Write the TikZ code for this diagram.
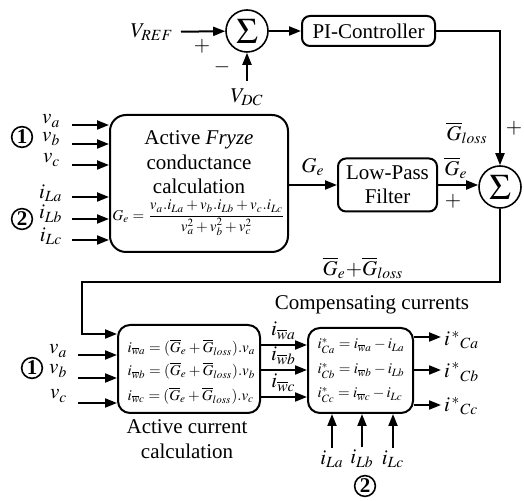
\documentclass[tikz,border=0pt]{standalone}
\usepackage{amsmath}
\usepackage{mathptmx}
\usepackage[no-math]{fontspec}
\setmainfont{Liberation Serif}
\usetikzlibrary{arrows.meta}

\begin{document}
\begin{tikzpicture}[x=0.5pt, y=-0.5pt, font=\fontsize{10.5}{12.2}\selectfont,
  >={Triangle[length=6pt,width=4.5pt]}, line width=1pt,
  block/.style={draw, line width=1pt, rounded corners=4pt, inner sep=2pt, align=center},
  sumnode/.style={draw, line width=0.8pt, circle, minimum size=21pt, inner sep=0pt,
    font=\fontsize{18}{18}\selectfont},
  numc/.style={draw, line width=0.8pt, circle, inner sep=0.6pt, minimum size=10pt,
    font=\fontsize{10.5}{10.5}\selectfont\bfseries},
  eqfont/.style={font=\fontsize{7.5}{11}\selectfont},
  flow/.style={->, line width=1pt}]

\useasboundingbox (0,0) rectangle (524,501);

% ---------- DC-link voltage loop ----------
\node[sumnode] (sumdc) at (247,31) {$\Sigma$};
\node (vref) at (152,32) {$V_{REF}$};
\node (vdc) at (247,97) {$V_{DC}$};
\node[block, minimum width=66.5pt, minimum height=15pt] (pi) at (368.5,31) {PI-Controller};
\node (plusref) at (202,46) {$+$};
\node (minusdc) at (222,67) {$-$};

\draw[flow] (vref) -- (sumdc);
\draw[flow] (vdc) -- (sumdc);
\draw[flow] (sumdc) -- (pi);

% ---------- Fryze conductance ----------
\node[block, rounded corners=8pt, minimum width=89pt, minimum height=68.5pt,
  inner sep=1pt] (fryze) at (199,183.5)
  {Active \textit{Fryze}\\conductance\\calculation\\[1pt]
   {\fontsize{7.5}{9}\selectfont$G_e=\dfrac{v_a.i_{La}+v_b.i_{Lb}+v_c.i_{Lc}}{v_a^2+v_b^2+v_c^2}$}};

\coordinate (vain) at (72,125);
\coordinate (vbin) at (72,144);
\coordinate (vcin) at (72,165);
\coordinate (ilain) at (72,197);
\coordinate (ilbin) at (72,219);
\coordinate (ilcin) at (72,240);
\node[anchor=east] (va) at (68,121) {$v_a$};
\node[anchor=east] (vb) at (68,139) {$v_b$};
\node[anchor=east] (vc) at (68,160) {$v_c$};
\node[anchor=east] (ila) at (70,193) {$i_{La}$};
\node[anchor=east] (ilb) at (70,214) {$i_{Lb}$};
\node[anchor=east] (ilc) at (70,236) {$i_{Lc}$};
\draw[flow] (vain) -- (vain -| fryze.west);
\draw[flow] (vbin) -- (vbin -| fryze.west);
\draw[flow] (vcin) -- (vcin -| fryze.west);
\draw[flow] (ilain) -- (ilain -| fryze.west);
\draw[flow] (ilbin) -- (ilbin -| fryze.west);
\draw[flow] (ilcin) -- (ilcin -| fryze.west);
\node[numc] (one) at (22,137) {1};
\node[numc] (two) at (22,219) {2};

% ---------- filter and loss sum ----------
\node[block, minimum width=49.5pt, minimum height=26.5pt] (lpf) at (387.5,185)
  {Low-Pass\\Filter};
\node[sumnode] (sumg) at (500,187) {$\Sigma$};

\draw[flow] (fryze.east |- lpf.west) -- (lpf.west)
  node[midway, above=1pt] (ge) {$G_e$};
\draw[flow] (lpf.east) -- (sumg.west |- lpf.east);
\draw[flow] (pi.east) -| (sumg.north);
\node (gbar) at (456,168) {$\overline{G}_e$};
\node (plusge) at (453,201) {$+$};
\node (gloss) at (467,133) {$\overline{G}_{loss}$};
\node (plusloss) at (514,128) {$+$};

% ---------- active current ----------
\node[block, rounded corners=6pt, minimum width=71pt, minimum height=44pt] (acc) at (189,369) {};
\node[eqfont, anchor=west] (eqwa) at (120,348)
  {$i_{\overline{w}a}=(\overline{G}_e+\overline{G}_{loss}).v_a$};
\node[eqfont, anchor=west] (eqwb) at (120,371)
  {$i_{\overline{w}b}=(\overline{G}_e+\overline{G}_{loss}).v_b$};
\node[eqfont, anchor=west] (eqwc) at (120,396)
  {$i_{\overline{w}c}=(\overline{G}_e+\overline{G}_{loss}).v_c$};
\node[align=center] (acclab) at (187,439) {Active current\\calculation};

\coordinate (fbturn) at (82,282);
\draw[flow] (sumg.south) |- (fbturn) |- (acc.west |- 0,334);
\node (gsum) at (363,268) {$\overline{G}_e{+}\overline{G}_{loss}$};

\coordinate (va2in) at (78,355);
\coordinate (vb2in) at (78,378);
\coordinate (vc2in) at (78,403);
\node[anchor=east] (va2) at (75,351) {$v_a$};
\node[anchor=east] (vb2) at (75,371) {$v_b$};
\node[anchor=east] (vc2) at (75,396) {$v_c$};
\draw[flow] (va2in) -- (va2in -| acc.west);
\draw[flow] (vb2in) -- (vb2in -| acc.west);
\draw[flow] (vc2in) -- (vc2in -| acc.west);
\node[numc] (one2) at (32,368) {1};

% ---------- compensating currents ----------
\node[block, rounded corners=6pt, minimum width=52.5pt, minimum height=42.5pt] (comp) at (360.5,370.5) {};
\node[eqfont, anchor=west] (eqca) at (310,346) {$i^*_{Ca}=i_{\overline{w}a}-i_{La}$};
\node[eqfont, anchor=west] (eqcb) at (310,371) {$i^*_{Cb}=i_{\overline{w}b}-i_{Lb}$};
\node[eqfont, anchor=west] (eqcc) at (310,395) {$i^*_{Cc}=i_{\overline{w}c}-i_{Lc}$};
\node (complab) at (372,305) {Compensating currents};

\coordinate (wain) at (260,345);
\coordinate (wbin) at (260,370);
\coordinate (wcin) at (260,397);
\draw[flow] (wain) -- (wain -| comp.west) node[midway, above=-1pt] (iwa) {$i_{\overline{w}a}$};
\draw[flow] (wbin) -- (wbin -| comp.west) node[midway, above=-1pt] (iwb) {$i_{\overline{w}b}$};
\draw[flow] (wcin) -- (wcin -| comp.west) node[midway, above=-1pt] (iwc) {$i_{\overline{w}c}$};

\node[anchor=west, inner sep=1pt] (ica) at (441,340) {$i^{\,*}{}_{Ca}$};
\node[anchor=west, inner sep=1pt] (icb) at (441,372) {$i^{\,*}{}_{Cb}$};
\node[anchor=west, inner sep=1pt] (icc) at (441,406) {$i^{\,*}{}_{Cc}$};
\draw[flow] (comp.east |- 0,337) -- (ica.west |- 0,337);
\draw[flow] (comp.east |- 0,370) -- (icb.west |- 0,370);
\draw[flow] (comp.east |- 0,405) -- (icc.west |- 0,405);

\node[inner sep=1pt] (ila2) at (332,459) {$i_{La}$};
\node[inner sep=1pt] (ilb2) at (362,459) {$i_{Lb}$};
\node[inner sep=1pt] (ilc2) at (393,459) {$i_{Lc}$};
\draw[flow] (ila2.north) -- (ila2.north |- comp.south);
\draw[flow] (ilb2.north) -- (ilb2.north |- comp.south);
\draw[flow] (ilc2.north) -- (ilc2.north |- comp.south);
\node[numc] (two2) at (365,486) {2};

\end{tikzpicture}
\end{document}
